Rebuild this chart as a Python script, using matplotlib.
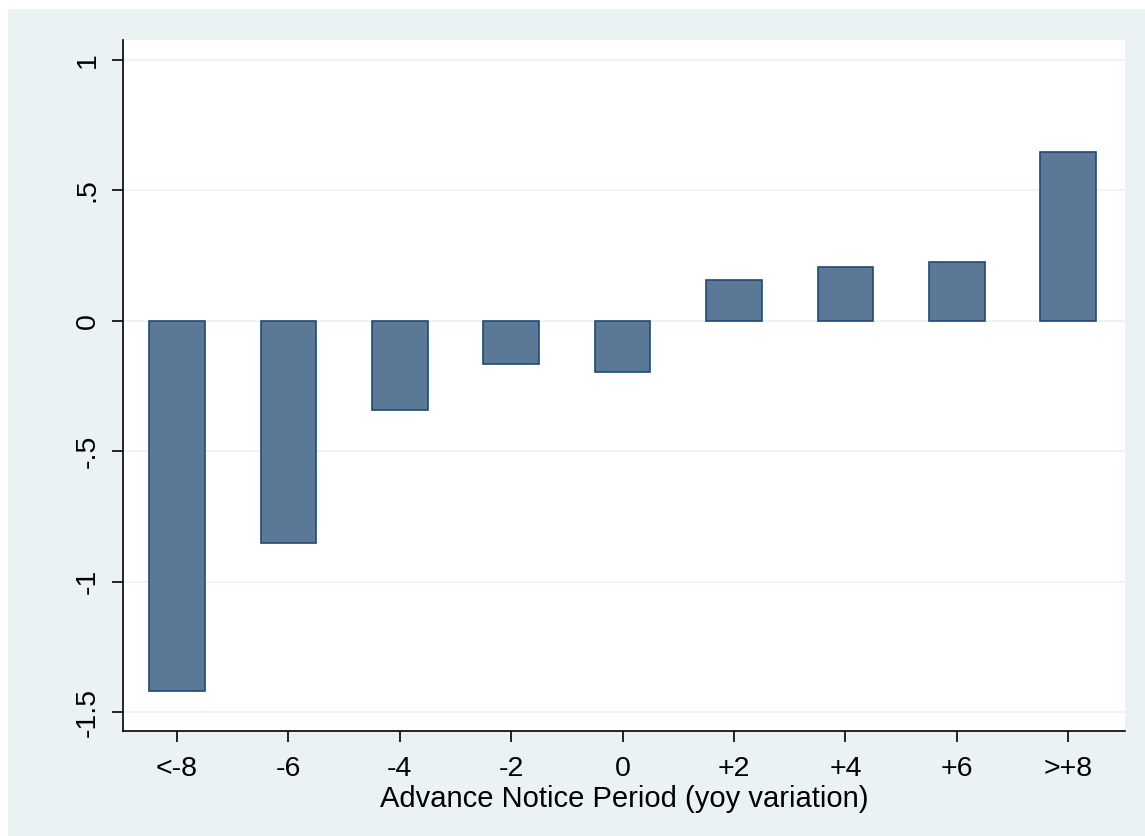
import numpy as np
import matplotlib.pyplot as plt
from matplotlib.patches import Rectangle

# advance notice period categories and estimated effects
categories = ['<-8', '-6', '-4', '-2', '0', '+2', '+4', '+6', '>+8']
values = [-1.419, -0.851, -0.341, -0.165, -0.196, 0.157, 0.207, 0.226, 0.648]
yticks = [-1.5, -1, -0.5, 0, 0.5, 1]
ytick_labels = ['-1.5', '-1', '-.5', '0', '.5', '1']

W, H = 1145, 836
fig = plt.figure(figsize=(W / 100, H / 100), dpi=100, facecolor='white')
plt.rcParams['font.family'] = ['Liberation Sans', 'DejaVu Sans']

# stata-like graph region
fig.patches.append(Rectangle((8 / W, 0), 1 - 8 / W, 1 - 9 / H, transform=fig.transFigure,
                             facecolor='#eaf2f3', edgecolor='none', zorder=-10))

ax = fig.add_axes([123 / W, 1 - 731 / H, (1125 - 123) / W, (731 - 40) / H])
ax.set_facecolor('white')

x = np.arange(len(categories))
ax.bar(x, values, width=0.5, color='#5b7996', edgecolor='#1f4a74', linewidth=1.2, zorder=3)

ax.set_xlim(-0.485, 8.51)
ax.set_ylim(-1.573, 1.077)
ax.set_yticks(yticks)
ax.set_yticklabels(ytick_labels, rotation=90, va='center')
ax.set_xticks(x)
ax.set_xticklabels(categories)
ax.grid(axis='y', color='#eaf2f3', linewidth=1.2, zorder=0)
ax.tick_params(axis='both', length=8, width=1.2, labelsize=20.5, pad=10)
ax.tick_params(axis='y', pad=8)

for side in ['top', 'right']:
    ax.spines[side].set_visible(False)
for side in ['left', 'bottom']:
    ax.spines[side].set_linewidth(1.2)

ax.set_xlabel('Advance Notice Period (yoy variation)', fontsize=21, labelpad=2)

fig.savefig('out.png', dpi=100, facecolor=fig.get_facecolor())
